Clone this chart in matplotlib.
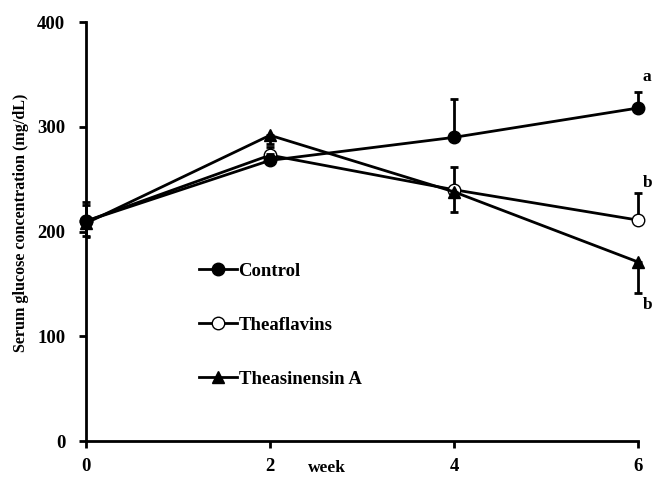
import matplotlib
matplotlib.use("Agg")
import matplotlib.pyplot as plt
from matplotlib.lines import Line2D

plt.rcParams['font.family'] = ['Liberation Serif', 'DejaVu Serif']
plt.rcParams['font.weight'] = 'bold'

weeks = [0, 2, 4, 6]
control = [210, 268, 290, 318]
control_err = [18, 6, 37, 15]
theaflavins = [210, 273, 240, 211]
theaflavins_err = [15, 8, 22, 26]
theasinensin = [208, 292, 238, 171]
theasinensin_err = [12, 8, 19, 30]
labels = ["Control", "Theaflavins", "Theasinensin A"]
letters = ["a", "b", "b"]

fig = plt.figure(figsize=(6.54, 4.82), dpi=100)
ax = fig.add_axes([0.1315, 0.085, 0.844, 0.869])

kw = dict(color='black', lw=2, elinewidth=2, capsize=3, capthick=2, ms=9)
zero = [0, 0, 0, 0]
conts = []
conts.append(ax.errorbar(weeks, theaflavins, yerr=[zero, theaflavins_err], marker='o', mfc='white', zorder=2, **kw))
conts.append(ax.errorbar(weeks, theasinensin, yerr=[theasinensin_err, zero], marker='^', mfc='black', zorder=3, **kw))
conts.append(ax.errorbar(weeks, control, yerr=[zero, control_err], marker='o', mfc='black', zorder=4, **kw))
ax.errorbar([0], [control[0]], yerr=[[15], [0]], fmt='none', ecolor='black', elinewidth=2, capsize=3, capthick=2)
for c in conts:
    c.lines[0].set_clip_on(False)
    for l in c.lines[1]:
        l.set_clip_on(False)
    for l in c.lines[2]:
        l.set_clip_on(False)

ax.text(6.1, control[-1] + 22, letters[0], fontsize=12.5, fontweight='bold', ha='center', va='bottom')
ax.text(6.1, theaflavins[-1] + 28, letters[1], fontsize=12.5, fontweight='bold', ha='center', va='bottom')
ax.text(6.1, theasinensin[-1] - 33, letters[2], fontsize=12.5, fontweight='bold', ha='center', va='top')

ax.set_xlim(0, 6)
ax.set_ylim(0, 400)
ax.set_xticks(weeks)
ax.set_yticks([0, 100, 200, 300, 400])
ax.spines['top'].set_visible(False)
ax.spines['right'].set_visible(False)
for s in ['left', 'bottom']:
    ax.spines[s].set_linewidth(2)
ax.tick_params(width=2, length=5, labelsize=13.5)
ax.tick_params(axis='y', pad=10)
ax.tick_params(axis='x', pad=7)
for t in ax.get_xticklabels() + ax.get_yticklabels():
    t.set_fontweight('bold')

ax.set_xlabel('week', fontsize=12.5, fontweight='bold')
ax.xaxis.set_label_coords(0.437, -0.045)
ax.set_ylabel('Serum glucose concentration (mg/dL)', fontsize=11.6, fontweight='bold')
ax.yaxis.set_label_coords(-0.103, 0.52)

handles = [
    Line2D([], [], color='black', lw=2, marker='o', mfc='black', ms=9),
    Line2D([], [], color='black', lw=2, marker='o', mfc='white', ms=9),
    Line2D([], [], color='black', lw=2, marker='^', mfc='black', ms=9),
]
leg = ax.legend(handles, labels, loc='upper left', bbox_to_anchor=(0.205, 0.426), frameon=False, fontsize=13.5,
                labelspacing=1.97, handlelength=2.0, handletextpad=0.1, borderaxespad=0, borderpad=0)
for t in leg.get_texts():
    t.set_fontweight('bold')

fig.savefig('out.png', dpi=100)
